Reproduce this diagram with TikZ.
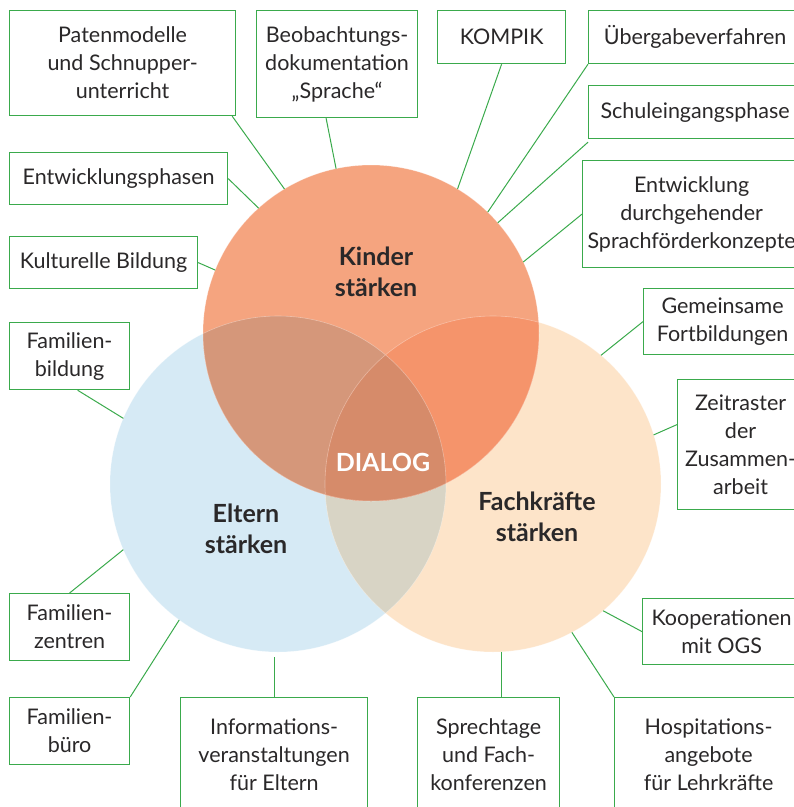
\documentclass[tikz,border=0pt]{standalone}
\usepackage{fontspec}
\setmainfont{Lato}
\usetikzlibrary{positioning,calc}

\definecolor{linegreen}{HTML}{3AAA4C}
\definecolor{textgray}{HTML}{2A2829}
\definecolor{kinderfill}{HTML}{F5A47F}
\definecolor{elternfill}{HTML}{D6EAF5}
\definecolor{fachfill}{HTML}{FDE4C9}
\definecolor{kefill}{HTML}{D5977A}
\definecolor{kffill}{HTML}{F5946B}
\definecolor{effill}{HTML}{D8D4C5}
\definecolor{keffill}{HTML}{D68B6A}

\newcommand{\boxfont}{\fontsize{21.5}{28}\selectfont}
\newcommand{\titlefont}{\fontsize{25}{31}\selectfont\bfseries}

\begin{document}
\begin{tikzpicture}[
      x=1pt, y=-1pt,
      box/.style={draw=linegreen, line width=1.2pt, fill=white, text=textgray, align=center,
                  inner sep=0pt, anchor=north west, font=\boxfont},
      link/.style={draw=linegreen, line width=1pt},
      ring/.style={circle, minimum size=336pt, inner sep=0pt, outer sep=0pt},
      title/.style={font=\titlefont, text=textgray, align=center}
    ]
    \useasboundingbox (0,0) rectangle (794,807);
    \clip (0,0) rectangle (794,807);
    % Circles
    \node [ring] (kinder) at (371,333) {};
    \node [ring] (eltern) at (278,484) {};
    \node [ring] (fach) at (493,484) {};
    \fill [elternfill] (eltern.center) circle (168pt);
    \fill [fachfill] (fach.center) circle (168pt);
    \begin{scope}
      \clip (eltern.center) circle (168pt);
      \fill [effill] (fach.center) circle (168pt);
    \end{scope}
    \fill [kinderfill] (kinder.center) circle (168pt);
    \begin{scope}
      \clip (kinder.center) circle (168pt);
      \fill [kefill] (eltern.center) circle (168pt);
      \fill [kffill] (fach.center) circle (168pt);
      \clip (eltern.center) circle (168pt);
      \fill [keffill] (fach.center) circle (168pt);
    \end{scope}
    \draw [white, opacity=0.35, line width=0.6pt] (kinder.center) circle (168pt)
      (eltern.center) circle (168pt) (fach.center) circle (168pt);
    % Titles
    \node [title] (tkinder) at (376,272) {Kinder\\stärken};
    \node [title] (teltern) at (246,529) {Eltern\\stärken};
    \node [title] (tfach) at (537,517) {Fachkräfte\\stärken};
    \node [title, text=white] (dialog) at (383,462) {DIALOG};
    % Nodes
    \node [box, minimum width=226pt, minimum height=105pt] (paten) at (9,10) {Patenmodelle\\und Schnupper-\\unterricht};
    \node [box, minimum width=161pt, minimum height=107pt] (beob) at (256,10) {Beobachtungs-\\dokumentation\\„Sprache“};
    \node [box, minimum width=128pt, minimum height=53pt] (kompik) at (437,10) {KOMPIK};
    \node [box, minimum width=213pt, minimum height=53pt] (uebergabe) at (588,10) {Übergabeverfahren};
    \node [box, minimum width=213pt, minimum height=53pt] (schule) at (588,85) {Schuleingangsphase};
    \node [box, minimum width=218pt, minimum height=107pt] (sprachf) at (582,160) {Entwicklung\\durchgehender\\Sprachförderkonzepte};
    \node [box, minimum width=218pt, minimum height=52pt] (phasen) at (9,152) {Entwicklungsphasen};
    \node [box, minimum width=188pt, minimum height=52pt] (kultur) at (9,236) {Kulturelle Bildung};
    \node [box, minimum width=120pt, minimum height=67pt] (fbildung) at (9,322) {Familien-\\bildung};
    \node [box, minimum width=158pt, minimum height=66pt] (fortb) at (643,288) {Gemeinsame\\Fortbildungen};
    \node [box, minimum width=126pt, minimum height=130pt] (zeit) at (677,379) {Zeitraster\\der\\Zusammen-\\arbeit};
    \node [box, minimum width=120pt, minimum height=67pt] (fzentren) at (9,593) {Familien-\\zentren};
    \node [box, minimum width=158pt, minimum height=66pt] (koop) at (642,598) {Kooperationen\\mit OGS};
    \node [box, minimum width=120pt, minimum height=67pt] (fbuero) at (9,697) {Familien-\\büro};
    \node [box, minimum width=187pt, minimum height=115pt] (info) at (180,697) {Informations-\\veranstaltungen\\für Eltern};
    \node [box, minimum width=142pt, minimum height=115pt] (sprech) at (417,697) {Sprechtage\\und Fach-\\konferenzen};
    \node [box, minimum width=188pt, minimum height=115pt] (hosp) at (614,697) {Hospitations-\\angebote\\für Lehrkräfte};
    % Lines
    \path [link] ([xshift=-4pt]paten.south east) -- (kinder.121);
    \path [link] ([xshift=-11pt]beob.south) -- (kinder.102);
    \path [link] (phasen.east) -- (kinder.132);
    \path [link] (kultur.east) -- (kinder.158);
    \path [link] (kompik.south) -- (kinder.59);
    \path [link] (uebergabe.south west) -- (kinder.46);
    \path [link] ([yshift=-3pt]schule.south west) -- (kinder.41);
    \path [link] (sprachf.west) -- (kinder.25);
    \path [link] ([xshift=8pt]fbildung.south) -- (eltern.157);
    \path [link] (fzentren.north) -- (eltern.203);
    \path [link] (fbuero.north east) -- (eltern.234);
    \path [link, shorten >=5pt] (info.north) -- (info.north |- eltern.south);
    \path [link] (fortb.west) -- (fach.50);
    \path [link] ([yshift=20pt]zeit.west) -- (fach.17);
    \path [link] (koop.west) -- (fach.-49);
    \path [link] ([xshift=13pt]sprech.north) -- ([xshift=13pt]sprech.north |- fach.south);
    \path [link] (hosp.north west) -- (fach.-62);
  \end{tikzpicture}
\end{document}
